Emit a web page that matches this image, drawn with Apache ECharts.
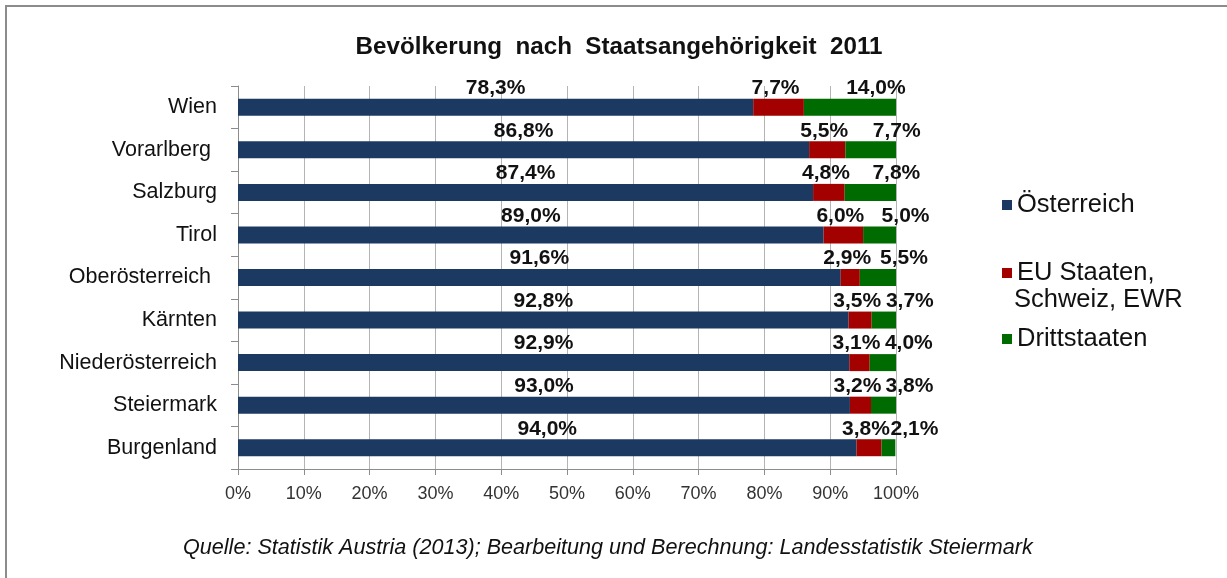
<!DOCTYPE html>
<html>
<head>
<meta charset="utf-8">
<script src="https://cdn.jsdelivr.net/npm/echarts@6/dist/echarts.min.js"></script>
<style>
  html, body { margin: 0; padding: 0; background: #fff; }
  #chart { width: 1227px; height: 578px; }
</style>
</head>
<body>
<div id="chart"></div>
<script>
// Bundesländer (von unten nach oben, wie die Kategorieachse zeichnet)
const laender = ['Burgenland', 'Steiermark', 'Niederösterreich', 'Kärnten', 'Oberösterreich ', 'Tirol', 'Salzburg', 'Vorarlberg ', 'Wien']
// Anteile in Prozent
const oesterreich = [94.0, 93.0, 92.9, 92.8, 91.6, 89.0, 87.4, 86.8, 78.3]
const euStaaten = [3.8, 3.2, 3.1, 3.5, 2.9, 6.0, 4.8, 5.5, 7.7]
const drittstaaten = [2.1, 3.8, 4.0, 3.7, 5.5, 5.0, 7.8, 7.7, 14.0]
const xTicks = [0, 10, 20, 30, 40, 50, 60, 70, 80, 90, 100]

const fmt = v => v.toFixed(1).replace('.', ',') + '%'
const font = 'Liberation Sans'

// Balkenbeschriftung über dem Balken
function barLabel (dx) {
  return {
    show: true,
    position: 'top',
    distance: 0,
    offset: [dx, 0],
    formatter: p => fmt(p.value),
    fontFamily: font,
    fontWeight: 'bold',
    fontSize: 21,
    color: '#111'
  }
}

function legendItem (name, top, fmtFn) {
  return {
    data: [name], left: 1002, top: top, orient: 'vertical', padding: 0,
    itemWidth: 10, itemHeight: 10, icon: 'rect',
    formatter: fmtFn,
    textStyle: { fontFamily: font, fontSize: 25.5, color: '#111' }
  }
}

const chart = echarts.init(document.getElementById('chart'))
chart.setOption({
  animation: false,
  title: {
    text: 'Bevölkerung  nach  Staatsangehörigkeit  2011',
    left: 614,
    textAlign: 'center',
    top: 30,
    textStyle: { fontFamily: font, fontWeight: 'bold', fontSize: 24.2, color: '#111' }
  },
  legend: [
    legendItem('Österreich', 192),
    legendItem('EU Staaten, Schweiz, EWR', 260, () => 'EU Staaten,'),
    legendItem('Drittstaaten', 326)
  ],
  grid: { left: 238, right: 331, top: 86, bottom: 109 },
  xAxis: {
    type: 'value',
    min: xTicks[0],
    max: xTicks[xTicks.length - 1],
    interval: 10,
    axisLine: { show: true, lineStyle: { color: '#8c8c8c', width: 1 } },
    axisTick: { show: true, length: 6, lineStyle: { color: '#8c8c8c' } },
    axisLabel: {
      formatter: v => v + '%',
      margin: 16,
      fontFamily: font,
      fontSize: 18,
      color: '#333'
    },
    splitLine: { show: true, lineStyle: { color: '#b4b4b4', width: 1 } }
  },
  yAxis: {
    type: 'category',
    data: laender,
    axisLine: { show: true, lineStyle: { color: '#8c8c8c' } },
    axisTick: { show: true, length: 7, lineStyle: { color: '#8c8c8c' } },
    axisLabel: {
      margin: 21,
      fontFamily: font,
      fontSize: 21.5,
      color: '#111'
    }
  },
  series: [
    {
      name: 'Österreich', type: 'bar', stack: 'gesamt', barWidth: 17,
      data: oesterreich, itemStyle: { color: '#1c3a61' }, label: barLabel(0)
    },
    {
      name: 'EU Staaten, Schweiz, EWR', type: 'bar', stack: 'gesamt', barWidth: 17,
      data: euStaaten, itemStyle: { color: '#a30000' }, label: barLabel(-3)
    },
    {
      name: 'Drittstaaten', type: 'bar', stack: 'gesamt', barWidth: 17,
      data: drittstaaten, itemStyle: { color: '#006b00' }, label: barLabel(26)
    }
  ],
  graphic: [
    {
      type: 'rect',
      shape: { x: 6, y: 6, width: 1260, height: 620 },
      style: { fill: 'none', stroke: '#8c8c8c', lineWidth: 2 },
      silent: true
    },
    {
      // zweite Zeile der Legende
      type: 'text',
      left: 1014,
      top: 287,
      style: { text: 'Schweiz, EWR', fontFamily: font, fontSize: 25.5, fill: '#111' }
    },
    {
      type: 'text',
      left: 183,
      top: 537,
      style: {
        text: 'Quelle: Statistik Austria (2013); Bearbeitung und Berechnung: Landesstatistik Steiermark',
        fontFamily: font,
        fontStyle: 'italic',
        fontSize: 21.6,
        fill: '#111'
      }
    }
  ]
})
</script>
</body>
</html>
